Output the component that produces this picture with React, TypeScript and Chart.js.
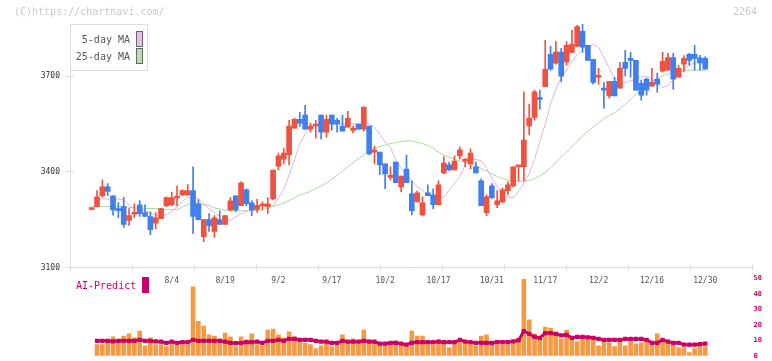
import React, { useEffect, useRef } from 'react';
import { Chart, registerables } from 'chart.js';
Chart.register(...registerables);

// ---- data (candle index 1..116) ----
const opens = [3282,3291,3325,3353,3325,3285,3291,3248,3267,3297,3272,3260,3239,3253,3294,3297,3318,3328,3328,3341,3300,3197,3250,3213,3250,3235,3281,3325,3294,3344,3303,3282,3293,3291,3315,3418,3440,3453,3537,3565,3578,3534,3544,3578,3525,3578,3562,3544,3540,3530,3550,3534,3544,3462,3462,3425,3383,3431,3353,3409,3331,3306,3265,3334,3328,3297,3397,3422,3406,3450,3434,3425,3416,3372,3272,3356,3297,3306,3341,3356,3416,3416,3544,3571,3632,3667,3769,3741,3776,3745,3775,3794,3841,3797,3753,3697,3663,3638,3684,3663,3744,3753,3750,3678,3691,3669,3691,3716,3719,3759,3697,3738,3769,3769,3758,3756];
const highs = [3285,3341,3375,3363,3325,3304,3320,3285,3300,3310,3297,3275,3272,3285,3322,3337,3356,3344,3360,3416,3313,3250,3269,3263,3278,3263,3319,3325,3369,3347,3309,3314,3306,3319,3406,3459,3475,3562,3568,3587,3609,3553,3562,3578,3578,3578,3568,3578,3590,3544,3550,3603,3544,3481,3462,3425,3416,3431,3387,3453,3372,3340,3322,3359,3347,3372,3447,3431,3450,3478,3441,3472,3431,3378,3328,3363,3341,3350,3369,3416,3419,3651,3613,3656,3656,3813,3794,3809,3788,3809,3844,3860,3863,3797,3753,3725,3681,3684,3697,3744,3781,3775,3750,3688,3694,3725,3710,3775,3772,3772,3734,3765,3772,3797,3766,3762];
const lows = [3281,3291,3320,3325,3264,3256,3226,3232,3256,3260,3260,3203,3222,3253,3291,3294,3294,3325,3325,3206,3250,3181,3213,3194,3235,3235,3278,3275,3294,3294,3263,3273,3281,3269,3312,3406,3425,3422,3537,3543,3534,3525,3506,3503,3509,3531,3525,3528,3540,3522,3534,3528,3453,3425,3391,3347,3375,3366,3337,3366,3265,3306,3262,3325,3284,3297,3394,3403,3406,3441,3416,3409,3397,3294,3263,3316,3288,3303,3328,3353,3372,3372,3516,3562,3597,3667,3719,3738,3682,3734,3775,3794,3775,3750,3675,3675,3600,3631,3638,3663,3700,3697,3656,3625,3641,3669,3650,3713,3719,3659,3697,3714,3734,3719,3719,3722];
const closes = [3284,3322,3353,3339,3281,3278,3235,3263,3270,3269,3260,3219,3256,3285,3319,3319,3320,3341,3341,3260,3250,3250,3231,3256,3235,3263,3309,3281,3366,3300,3281,3295,3295,3300,3406,3450,3459,3544,3565,3553,3534,3544,3550,3525,3565,3550,3550,3528,3568,3532,3534,3603,3456,3465,3422,3394,3385,3366,3387,3366,3278,3334,3303,3325,3297,3359,3428,3406,3434,3469,3436,3459,3397,3294,3322,3319,3309,3344,3359,3416,3419,3500,3569,3651,3627,3722,3722,3776,3700,3797,3800,3856,3791,3750,3681,3703,3656,3684,3638,3725,3725,3750,3656,3641,3656,3681,3675,3747,3759,3691,3725,3756,3750,3756,3742,3722];
const ma5 = [null,3313,3315,3315,3315,3315,3311,3297,3285,3280,3278,3271,3264,3261,3265,3276,3290,3307,3320,3323,3315,3300,3284,3271,3261,3250,3248,3259,3269,3275,3281,3290,3300,3296,3294,3320,3344,3390,3437,3490,3518,3540,3548,3550,3552,3552,3550,3551,3552,3551,3550,3552,3550,3540,3518,3494,3476,3438,3410,3392,3372,3354,3341,3331,3318,3320,3320,3343,3364,3385,3422,3439,3439,3435,3411,3380,3354,3328,3321,3318,3339,3365,3395,3440,3495,3550,3612,3660,3695,3720,3746,3768,3781,3790,3800,3790,3760,3725,3695,3683,3680,3686,3690,3698,3700,3693,3680,3665,3670,3690,3705,3722,3735,3742,3743,3740];
const ma25 = [3291,3291,3291,3291,3291,3291,3291,3289,3288,3286,3285,3285,3285,3284,3282,3281,3281,3290,3298,3302,3300,3297,3295,3287,3284,3280,3278,3278,3278,3278,3278,3279,3281,3286,3291,3296,3302,3310,3318,3327,3333,3339,3348,3356,3365,3377,3389,3403,3416,3429,3441,3453,3466,3474,3479,3484,3489,3492,3495,3497,3497,3493,3489,3483,3474,3462,3452,3446,3439,3434,3431,3427,3420,3411,3403,3394,3386,3379,3374,3371,3370,3370,3373,3379,3387,3399,3413,3428,3448,3461,3479,3496,3512,3528,3541,3554,3567,3577,3586,3599,3612,3627,3643,3658,3672,3683,3693,3701,3707,3712,3716,3719,3719,3719,3719,3719];
const volumes = [null,7.2,7.2,9.3,12.2,8.9,12.8,14.1,11.6,16.0,6.5,11.6,7.2,7.2,5.9,7.8,7.2,7.2,7.2,44.5,22.3,19.2,13.5,12.8,10.9,14.7,12.2,5.9,12.2,10.3,14.1,7.2,6.5,16.6,17.3,13.5,11.6,15.4,12.2,10.9,8.0,7.2,4.6,6.5,8.4,5.9,8.4,13.5,9.7,10.9,8.4,16.6,10.3,8.4,8.4,7.2,8.4,9.7,7.2,5.9,16.0,12.8,12.8,8.4,7.2,10.3,8.4,5.3,8.4,9.7,7.8,7.8,6.5,12.8,13.5,8.4,7.2,7.2,7.2,9.3,11.4,49.5,23.2,14.1,10.5,18.5,17.9,15.3,10.9,16.6,10.7,9.1,10.9,10.9,10.3,6.5,10.3,8.4,5.9,9.7,6.5,10.3,7.8,8.4,9.7,7.8,14.1,9.7,7.8,7.2,5.3,5.3,2.1,4.6,6.5,5.9];
const aiPredict = [null,9.7,9.7,9.7,9.3,9.7,9.7,9.7,9.7,10.3,9.7,9.7,9.3,9.1,8.4,9.1,8.4,8.8,8.8,10.3,9.7,9.7,9.7,9.7,9.7,9.1,8.4,8.1,8.4,8.8,8.8,9.1,8.4,9.7,9.7,10.3,9.7,10.9,10.9,10.3,10.3,10.3,9.7,9.1,9.1,8.4,8.4,9.7,9.1,9.1,9.1,9.7,9.1,9.1,7.8,7.8,8.4,8.4,7.8,7.2,8.4,8.8,8.8,8.8,8.8,9.1,8.8,8.8,8.8,10.3,9.1,8.8,8.4,8.4,8.4,8.4,8.9,8.9,8.9,9.3,9.9,16.0,14.1,12.2,11.6,14.7,14.7,14.1,13.1,13.5,11.6,12.2,12.2,11.9,11.6,10.9,10.3,10.3,10.3,10.3,10.9,10.9,10.9,10.9,10.3,8.4,8.4,10.3,9.1,8.4,8.4,7.2,7.2,7.2,7.5,7.8];
const dateLabels = ['8/4','8/19','9/2','9/17','10/2','10/17','10/31','11/17','12/2','12/16','12/30'];
const dateIndex = [16,26,36,46,56,66,76,86,96,106,116];
const priceTicks = [3100,3400,3700];
const volumeTicks = [0,10,20,30,40,50];

// ---- layout / style ----
const X_MIN = -2.97;
const X_MAX = 124.85;
const MONO = "'DejaVu Sans Mono', monospace";
const UP = '#f1513f';
const DOWN = '#3f7ff0';
const AXIS = '#dcdcdc';

const idx = opens.map((_, i) => i + 1);
const candleColors = opens.map((o, i) => (closes[i] >= o ? UP : DOWN));

const crossTicks = {
  id: 'crossTicks',
  afterDraw(chart: any) {
    const { ctx, chartArea } = chart;
    const ys = chart.scales.y;
    ctx.save();
    ctx.strokeStyle = AXIS;
    ctx.lineWidth = 1;
    const n = 11;
    for (let k = 0; k <= n; k++) {
      const px = Math.round(chartArea.left + ((chartArea.right - chartArea.left) * k) / n - 0.5) + 0.5;
      ctx.beginPath();
      ctx.moveTo(px, chartArea.bottom - 3);
      ctx.lineTo(px, chartArea.bottom + 2.5);
      ctx.stroke();
    }
    ys.ticks.forEach((t: any) => {
      const py = Math.round(ys.getPixelForValue(t.value) - 0.5) + 0.5;
      ctx.beginPath();
      ctx.moveTo(chartArea.left - 5, py);
      ctx.lineTo(chartArea.left + 3, py);
      ctx.stroke();
    });
    ctx.restore();
  },
};

export default function App() {
  const refA = useRef<HTMLCanvasElement>(null);
  const refB = useRef<HTMLCanvasElement>(null);

  useEffect(() => {
    const chartA = new Chart(refA.current as HTMLCanvasElement, {
      type: 'bar',
      data: {
        datasets: [
          {
            type: 'line',
            label: '25-day MA',
            data: idx.map((x, i) => ({ x, y: ma25[i] })),
            borderColor: '#acd9a2',
            borderWidth: 1,
            pointRadius: 0,
            order: 3,
          } as any,
          {
            type: 'line',
            label: '5-day MA',
            data: idx.map((x, i) => ({ x, y: ma5[i] })),
            borderColor: '#e6b0e6',
            borderWidth: 1,
            pointRadius: 0,
            order: 2,
          } as any,
          {
            type: 'bar',
            label: 'wick',
            data: idx.map((x, i) => ({ x, y: [lows[i], highs[i]] })),
            backgroundColor: candleColors,
            barThickness: 1,
            grouped: false,
            order: 1,
          } as any,
          {
            type: 'bar',
            label: 'body',
            data: idx.map((x, i) => ({ x, y: [opens[i], closes[i]] })),
            backgroundColor: candleColors,
            barThickness: 5,
            minBarLength: 2,
            grouped: false,
            order: 0,
          } as any,
        ],
      },
      options: {
        responsive: false,
        maintainAspectRatio: false,
        animation: false,
        devicePixelRatio: 1,
        layout: { padding: { left: 0, right: 19.5, top: 24, bottom: 0 } },
        plugins: { legend: { display: false }, tooltip: { enabled: false } },
        scales: {
          x: {
            type: 'linear',
            min: X_MIN,
            max: X_MAX,
            offset: false,
            grid: { display: false, drawTicks: false },
            border: { display: true, color: AXIS, width: 1 },
            ticks: {
              autoSkip: false,
              maxRotation: 0,
              padding: 9,
              color: '#555',
              font: { family: MONO, size: 8 },
              callback: (v: any) => {
                const k = dateIndex.indexOf(Number(v));
                return k >= 0 ? dateLabels[k] : '';
              },
            },
            afterBuildTicks: (s: any) => {
              s.ticks = dateIndex.map((v) => ({ value: v }));
            },
            afterFit: (s: any) => {
              s.height = 93.5;
            },
          },
          y: {
            type: 'linear',
            position: 'left',
            min: 3100,
            max: 3864,
            beginAtZero: false,
            grid: { display: false, drawTicks: false },
            border: { display: true, color: AXIS, width: 1 },
            ticks: {
              padding: 10.5,
              color: '#333',
              font: { family: MONO, size: 8 },
              callback: (v: any) => String(v),
            },
            afterBuildTicks: (s: any) => {
              s.ticks = priceTicks.map((v) => ({ value: v }));
            },
            afterFit: (s: any) => {
              s.width = 70.5;
            },
          },
        },
      } as any,
      plugins: [crossTicks],
    });

    const chartB = new Chart(refB.current as HTMLCanvasElement, {
      type: 'bar',
      data: {
        datasets: [
          {
            type: 'line',
            label: 'AI-Predict',
            data: idx.map((x, i) => ({ x, y: aiPredict[i] })),
            borderColor: '#cc0066',
            backgroundColor: '#cc0066',
            borderWidth: 3,
            pointStyle: 'rect',
            pointRadius: 3,
            pointBorderWidth: 0,
            pointBackgroundColor: '#cc0066',
            order: 0,
          } as any,
          {
            type: 'bar',
            label: 'Volume',
            data: idx.map((x, i) => ({ x, y: volumes[i] })),
            backgroundColor: '#f39a44',
            barThickness: 4,
            grouped: false,
            order: 1,
          } as any,
        ],
      },
      options: {
        responsive: false,
        maintainAspectRatio: false,
        animation: false,
        devicePixelRatio: 1,
        layout: { padding: { left: 70.5, right: 0, top: 278.3, bottom: 3.7 } },
        plugins: { legend: { display: false }, tooltip: { enabled: false } },
        scales: {
          x: { type: 'linear', min: X_MIN, max: X_MAX, offset: false, display: false },
          y: {
            type: 'linear',
            position: 'right',
            min: 0,
            max: 50,
            grid: { display: false, drawTicks: false },
            border: { display: false },
            ticks: {
              padding: 1,
              color: '#cc0066',
              font: { family: MONO, size: 7, weight: 'bold' },
              callback: (v: any) => String(v),
            },
            afterBuildTicks: (s: any) => {
              s.ticks = volumeTicks.map((v) => ({ value: v }));
            },
            afterFit: (s: any) => {
              s.width = 19.5;
            },
          },
        },
      } as any,
    });

    return () => {
      chartA.destroy();
      chartB.destroy();
    };
  }, []);

  const mono: React.CSSProperties = {
    position: 'absolute',
    fontFamily: MONO,
    fontSize: 10,
    lineHeight: '12px',
    whiteSpace: 'nowrap',
  };

  return (
    <div
      style={{
        position: 'fixed',
        left: 0,
        top: 0,
        width: 772,
        height: 361,
        background: '#fff',
        overflow: 'hidden',
      }}
    >
      <canvas ref={refA} width={772} height={361} style={{ position: 'absolute', left: 0, top: 0, width: 772, height: 361 }} />
      <canvas ref={refB} width={772} height={361} style={{ position: 'absolute', left: 0, top: 0, width: 772, height: 361 }} />
      <div style={{ ...mono, left: 14, top: 6, color: '#c8c8c8' }}>(C)https://chartnavi.com/</div>
      <div style={{ ...mono, left: 733, top: 6, color: '#c8c8c8' }}>2264</div>
      <div
        style={{
          position: 'absolute',
          left: 70,
          top: 24,
          width: 78,
          height: 47,
          boxSizing: 'border-box',
          border: '1px solid #dddddd',
          background: '#fff',
        }}
      />
      <div style={{ ...mono, left: 0, width: 130, textAlign: 'right', top: 34, color: '#555' }}>5-day MA</div>
      <div style={{ ...mono, left: 0, width: 130, textAlign: 'right', top: 51, color: '#555' }}>25-day MA</div>
      <div style={{ position: 'absolute', left: 136, top: 31, width: 7, height: 16, boxSizing: 'border-box', border: '1px solid #666', background: '#eebbee' }} />
      <div style={{ position: 'absolute', left: 136, top: 48, width: 7, height: 16, boxSizing: 'border-box', border: '1px solid #666', background: '#bbddaa' }} />
      <div style={{ ...mono, left: 76, top: 280, color: '#cc0066' }}>AI-Predict</div>
      <div style={{ position: 'absolute', left: 142, top: 277, width: 7, height: 16, background: '#cc0066' }} />
    </div>
  );
}
